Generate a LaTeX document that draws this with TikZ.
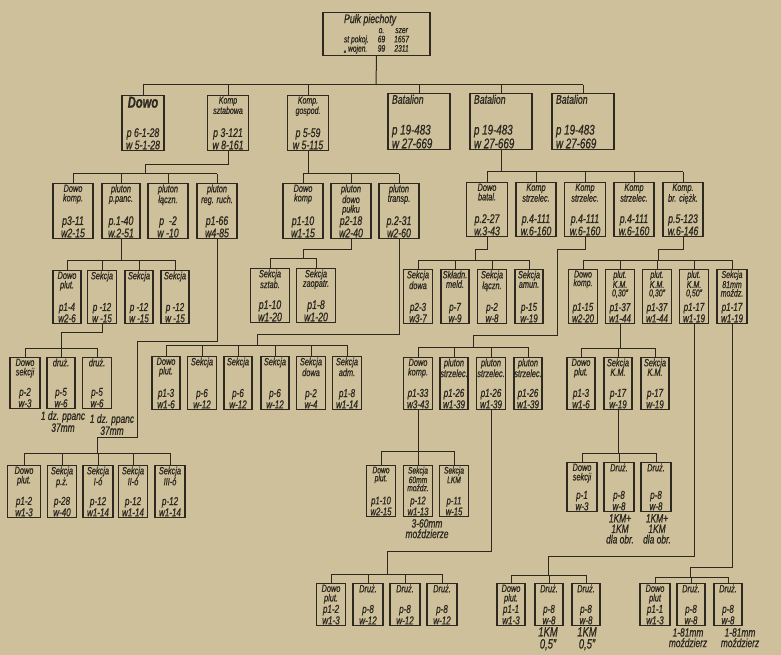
\documentclass[tikz,border=0pt]{standalone}
\usepackage{fontspec}
\setmainfont{Liberation Sans}[FakeStretch=0.7, FakeBold=0.7]

\definecolor{paper}{RGB}{205,192,155}
\definecolor{ink}{RGB}{45,40,32}

% one unit: name, centre x, top y, width, height, title, strength
\newcommand{\orgunit}[7]{%
  \node[unitbox, minimum width=#4pt, minimum height=#5pt, anchor=north] (#1) at (#2,#3) {};
  \node[unittitle, anchor=north] (#1-t) at (#1.north) {#6};
  \node[unitnums, anchor=south] (#1-n) at (#1.south) {#7};
}

\begin{document}
\begin{tikzpicture}[x=1pt, y=-1pt,
    unitbox/.style={draw=ink, line width=1.1pt, inner sep=0pt},
    unittitle/.style={text=ink, align=center, inner sep=1.5pt, font=\fontsize{10.5}{9.5}\selectfont\itshape},
    unitnums/.style={text=ink, align=center, inner sep=1.5pt, font=\fontsize{11.5}{10}\selectfont\itshape},
    wire/.style={draw=ink, line width=1pt},
    note/.style={text=ink, align=center, inner sep=0pt, font=\fontsize{12}{10.5}\selectfont\itshape}]

    % Paper
    \fill[paper] (0,0) rectangle (781,655);
    \useasboundingbox (0,0) rectangle (781,655);

    % Regiment
    \node[unitbox, anchor=north, minimum width=107pt, minimum height=40pt, inner sep=1.5pt,
          text=ink, font=\fontsize{9.5}{8}\selectfont\itshape] (pulk) at (376.5,12)
      {\begin{tabular}{@{}l@{\hspace{9pt}}c@{\hspace{9pt}}c@{}}
        \multicolumn{3}{@{}l}{\fontsize{12.5}{10}\selectfont Pułk piechoty}\\[2pt]
        & o. & szer\\
        st pokoj. & 69 & 1657\\
        „ wojen. & 99 & 2311
       \end{tabular}};

    % Second row
    \begin{scope}[unittitle/.append style={font=\fontsize{10}{9}\selectfont\itshape},
                  unitnums/.append style={font=\fontsize{12.5}{11}\selectfont\itshape}]
      \orgunit{dowo}{143}{95}{42}{55}{\fontsize{16}{16}\selectfont\bfseries Dowo}{p 6-1-28\\w 5-1-28}
      \orgunit{kszt}{228}{95}{41}{55}{Komp\\sztabowa}{p 3-121\\w 8-161}
      \orgunit{kgosp}{308}{95}{41}{55}{Komp.\\gospod.}{p 5-59\\w 5-115}
    \end{scope}
    \begin{scope}[unittitle/.append style={font=\fontsize{12.5}{12}\selectfont\itshape},
                  unitnums/.append style={font=\fontsize{14}{12}\selectfont\itshape}]
      \orgunit{bat1}{419}{93}{62}{56}{\makebox[54pt][l]{Batalion}}{\makebox[54pt][l]{p 19-483}\\\makebox[54pt][l]{w 27-669}}
      \orgunit{bat2}{501}{93}{62}{56}{\makebox[54pt][l]{Batalion}}{\makebox[54pt][l]{p 19-483}\\\makebox[54pt][l]{w 27-669}}
      \orgunit{bat3}{583}{93}{62}{56}{\makebox[54pt][l]{Batalion}}{\makebox[54pt][l]{p 19-483}\\\makebox[54pt][l]{w 27-669}}
    \end{scope}

    % Third row
    \begin{scope}[unittitle/.append style={font=\fontsize{10.5}{9.5}\selectfont\itshape},
                  unitnums/.append style={font=\fontsize{12.5}{11}\selectfont\itshape}]
      \orgunit{dkomp}{73}{183}{40}{55}{Dowo\\komp.}{p3-11\\w2-15}
      \orgunit{ppanc}{121}{183}{38}{55}{pluton\\p.panc.}{p.1-40\\w.2-51}
      \orgunit{placz}{168}{183}{40}{55}{pluton\\łączn.}{p\ \ -2\\w -10}
      \orgunit{pruch}{217}{183}{40}{55}{pluton\\reg. ruch.}{p1-66\\w4-85}
      \orgunit{gdkomp}{303}{183}{40}{55}{Dowo\\komp}{p1-10\\w1-15}
      \orgunit{pdowo}{351}{183}{40}{55}{pluton\\dowo\\pułku}{p2-18\\w2-40}
      \orgunit{ptransp}{399}{183}{40}{55}{pluton\\transp.}{p.2-31\\w2-60}
      \orgunit{dbat}{487}{182}{41}{54}{Dowo\\batal.}{p.2-27\\w.3-43}
      \orgunit{ks1}{536}{182}{40}{54}{Komp\\strzelec.}{p.4-111\\w.6-160}
      \orgunit{ks2}{585}{182}{41}{54}{Komp\\strzelec.}{p.4-111\\w.6-160}
      \orgunit{ks3}{634}{182}{40}{54}{Komp\\strzelec.}{p.4-111\\w.6-160}
      \orgunit{kbc}{683}{182}{40}{54}{Komp.\\br. ciężk.}{p.5-123\\w.6-146}
      \orgunit{ssztab}{270}{268}{39}{54}{Sekcja\\sztab.}{p1-10\\w1-20}
      \orgunit{szaop}{316}{268}{39}{54}{Sekcja\\zaopatr.}{p1-8\\w1-20}
    \end{scope}

    % Fourth row
    \orgunit{pdplut}{67}{270}{28}{53}{Dowo\\plut.}{p1-4\\w2-6}
    \orgunit{sek1}{102}{270}{29}{53}{Sekcja}{p -12\\w -15}
    \orgunit{sek2}{139}{270}{28}{53}{Sekcja}{p -12\\w -15}
    \orgunit{sek3}{175}{270}{28}{53}{Sekcja}{p -12\\w -15}
    \orgunit{sdowa}{418}{269}{29}{54}{Sekcja\\dowa}{p2-3\\w3-7}
    \orgunit{smeld}{455}{269}{28}{54}{Składn.\\meld.}{p-7\\w-9}
    \orgunit{slacz}{492}{269}{29}{54}{Sekcja\\łączn.}{p-2\\w-8}
    \orgunit{samun}{529}{269}{28}{54}{Sekcja\\amun.}{p-15\\w-19}
    \begin{scope}[unittitle/.append style={font=\fontsize{10}{8.5}\selectfont\itshape}]
      \orgunit{cdkomp}{583}{269}{29}{54}{Dowo\\komp.}{p1-15\\w2-20}
      \orgunit{km1}{620}{269}{29}{54}{plut.\\K.M.\\0,30"}{p1-37\\w1-44}
      \orgunit{km2}{657}{269}{29}{54}{plut.\\K.M.\\0,30"}{p1-37\\w1-44}
      \orgunit{km3}{694}{269}{29}{54}{plut.\\K.M.\\0,50"}{p1-17\\w1-19}
      \orgunit{s81}{732}{269}{30}{54}{Sekcja\\81mm\\moźdz.}{p1-17\\w1-19}
    \end{scope}

    % Fifth row
    \orgunit{dsek}{25}{357}{30}{51}{Dowo\\sekcji}{p-2\\w-3}
    \orgunit{druz1}{61}{357}{28}{51}{druż.}{p-5\\w-6}
    \orgunit{druz2}{97}{357}{29}{51}{druż.}{p-5\\w-6}
    \orgunit{tdplut}{166}{356}{28}{53}{Dowo\\plut.}{p1-3\\w1-6}
    \orgunit{ts1}{202}{356}{29}{53}{Sekcja}{p-6\\w-12}
    \orgunit{ts2}{238}{356}{28}{53}{Sekcja}{p-6\\w-12}
    \orgunit{ts3}{275}{356}{28}{53}{Sekcja}{p-6\\w-12}
    \orgunit{tsdowa}{311}{356}{29}{53}{Sekcja\\dowa}{p-2\\w-4}
    \orgunit{tsadm}{347}{356}{29}{53}{Sekcja\\adm.}{p1-8\\w1-14}
    \orgunit{kdkomp}{418}{357}{29}{52}{Dowo\\komp.}{p1-33\\w3-43}
    \orgunit{ps1}{454}{357}{28}{52}{pluton\\strzelec.}{p1-26\\w1-39}
    \orgunit{ps2}{491}{357}{29}{52}{pluton\\strzelec.}{p1-26\\w1-39}
    \orgunit{ps3}{528}{357}{28}{52}{pluton\\strzelec.}{p1-26\\w1-39}
    \orgunit{kpdplut}{581}{357}{28}{52}{Dowo\\plut.}{p1-3\\w1-6}
    \orgunit{skm1}{618}{357}{28}{52}{Sekcja\\K.M.}{p-17\\w-19}
    \orgunit{skm2}{655}{357}{28}{52}{Sekcja\\K.M.}{p-17\\w-19}

    % Sixth row
    \orgunit{rdplut}{24}{465}{33}{52}{Dowo\\plut.}{p1-2\\w1-3}
    \orgunit{rsek}{62}{465}{29}{52}{Sekcja\\p.ż.}{p-28\\w-40}
    \orgunit{rs1}{98}{465}{30}{52}{Sekcja\\I-ó}{p-12\\w1-14}
    \orgunit{rs2}{133}{465}{29}{52}{Sekcja\\II-ó}{p-12\\w1-14}
    \orgunit{rs3}{170}{465}{30}{52}{Sekcja\\III-ó}{p-12\\w1-14}
    \begin{scope}[unittitle/.append style={font=\fontsize{9.5}{8}\selectfont\itshape},
                  unitnums/.append style={font=\fontsize{11}{9}\selectfont\itshape}]
      \orgunit{cdplut}{381}{465}{29}{51}{Dowo\\plut.}{p1-10\\w2-15}
      \orgunit{s60}{418}{465}{29}{51}{Sekcja\\60mm\\moźdz.}{p-12\\w1-13}
      \orgunit{slkm}{454}{465}{29}{51}{Sekcja\\LKM}{p-11\\w-15}
    \end{scope}
    \orgunit{kdsek}{582}{462}{30}{49}{Dowo\\sekcji}{p-1\\w-3}
    \orgunit{kdruz1}{619}{462}{30}{49}{Druż.}{p-8\\w-8}
    \orgunit{kdruz2}{656}{462}{30}{49}{Druż.}{p-8\\w-8}

    % Bottom row
    \orgunit{bdplut}{331}{583}{29}{42}{Dowo\\plut.}{p1-2\\w1-3}
    \orgunit{bd1}{368}{583}{30}{42}{Druż.}{p-8\\w-12}
    \orgunit{bd2}{405}{583}{30}{42}{Druż.}{p-8\\w-12}
    \orgunit{bd3}{442}{583}{30}{42}{Druż.}{p-8\\w-12}
    \orgunit{mdplut}{511}{583}{28}{42}{Dowo\\plut.}{p1-1\\w1-3}
    \orgunit{md1}{549}{583}{28}{42}{Druż.}{p-8\\w-8}
    \orgunit{md2}{586}{583}{28}{42}{Druż.}{p-8\\w-8}
    \orgunit{adplut}{655}{583}{30}{42}{Dowo\\plut}{p1-1\\w1-3}
    \orgunit{ad1}{691}{583}{28}{42}{Druż.}{p-8\\w-8}
    \orgunit{ad2}{728}{583}{28}{42}{Druż.}{p-8\\w-8}

    % Notes under the boxes
    \node[note, anchor=north] (dz1) at (63,411) {1 dz. ppanc\\37mm};
    \node[note, anchor=north] (dz2) at (112,414) {1 dz. ppanc\\37mm};
    \node[note, anchor=north] (m60) at (427,519) {3-60mm\\moździerze};
    \node[note, anchor=north] (obr1) at (620,514) {1KM+\\1KM\\dla obr.};
    \node[note, anchor=north] (obr2) at (657,514) {1KM+\\1KM\\dla obr.};
    \node[note, anchor=north, font=\fontsize{13.5}{12}\selectfont\itshape] (km05a) at (548,627) {1KM\\0,5"};
    \node[note, anchor=north, font=\fontsize{13.5}{12}\selectfont\itshape] (km05b) at (587,627) {1KM\\0,5"};
    \node[note, anchor=north] (m81a) at (688,628) {1-81mm\\moździerz};
    \node[note, anchor=north] (m81b) at (740,628) {1-81mm\\moździerz};

    % Bus points
    \coordinate (pulk-bus) at (376,85);
    \coordinate (kszt-bus) at (145,174);
    \coordinate (kgosp-bus) at (308,174);
    \coordinate (bat2-bus) at (501,172);
    \coordinate (ppanc-bus) at (121,260);
    \coordinate (pdowo-bus) at (303,258);
    \coordinate (dbat-bus) at (475,260);
    \coordinate (kbc-bus) at (658,260);
    \coordinate (sek1-bus) at (61,348);
    \coordinate (ptransp-bus) at (257,345);
    \coordinate (ks2-bus) at (473,347);
    \coordinate (km1-bus) at (620,348);
    \coordinate (pruch-bus) at (97,453);
    \coordinate (kdkomp-bus) at (418,451);
    \coordinate (skm1-bus) at (618,453);
    \coordinate (ps2-bus) at (387,574);
    \coordinate (km3-bus) at (548,575);
    \coordinate (s81-bus) at (690,577);

    % Parents down to their bus
    \draw[wire] (pulk.south) -- (pulk-bus);
    \draw[wire] (kszt.south) -- ++(0,13) -| (kszt-bus);
    \draw[wire] (kgosp.south) -- (kgosp.south |- kgosp-bus);
    \draw[wire] (bat2.south) -- (bat2-bus);
    \draw[wire] (ppanc.south) -- (ppanc-bus);
    \draw[wire] (pdowo.south) -- ++(0,10) -| (pdowo-bus);
    \draw[wire] (dbat.south) -- ++(0,12) -| (dbat-bus);
    \draw[wire] (kbc.south) -- ++(0,12) -| (kbc-bus);
    \draw[wire] (sek1.south) -- ++(0,8) -| (sek1-bus);
    \draw[wire] (ptransp.south) -- ++(0,95) -| (ptransp-bus);
    \draw[wire] (ks2.south) -- ++(0,12) -| (557,335) -| (ks2-bus);
    \draw[wire] (km1.south) -- (km1-bus);
    \draw[wire] (pruch.south) -- ++(0,102) -| (137,437) -| (pruch-bus);
    \draw[wire] (kdkomp.south) -- (kdkomp-bus);
    \draw[wire] (skm1.south) -- (skm1-bus);
    \draw[wire] (ps2.south) -- ++(0,141) -| (ps2-bus);
    \draw[wire] (km3.south) -- ++(0,232) -| (km3-bus);
    \draw[wire] (s81.south) -- ++(0,243) -| (s81-bus);

    % Buses and drops to the children
    \draw[wire] (dowo.north |- pulk-bus) -- (bat3.north |- pulk-bus);
    \foreach \c in {dowo,kszt,kgosp,bat1,bat2,bat3}
      \draw[wire] (\c.north) -- (\c.north |- pulk-bus);
    \draw[wire] (dkomp.north |- kszt-bus) -- (pruch.north |- kszt-bus);
    \foreach \c in {dkomp,ppanc,placz,pruch}
      \draw[wire] (\c.north) -- (\c.north |- kszt-bus);
    \draw[wire] (gdkomp.north |- kgosp-bus) -- (ptransp.north |- kgosp-bus);
    \foreach \c in {gdkomp,pdowo,ptransp}
      \draw[wire] (\c.north) -- (\c.north |- kgosp-bus);
    \draw[wire] (dbat.north |- bat2-bus) -- (kbc.north |- bat2-bus);
    \foreach \c in {dbat,ks1,ks2,ks3,kbc}
      \draw[wire] (\c.north) -- (\c.north |- bat2-bus);
    \draw[wire] (pdplut.north |- ppanc-bus) -- (sek3.north |- ppanc-bus);
    \foreach \c in {pdplut,sek1,sek2,sek3}
      \draw[wire] (\c.north) -- (\c.north |- ppanc-bus);
    \draw[wire] (ssztab.north |- pdowo-bus) -- (szaop.north |- pdowo-bus);
    \foreach \c in {ssztab,szaop}
      \draw[wire] (\c.north) -- (\c.north |- pdowo-bus);
    \draw[wire] (sdowa.north |- dbat-bus) -- (samun.north |- dbat-bus);
    \foreach \c in {sdowa,smeld,slacz,samun}
      \draw[wire] (\c.north) -- (\c.north |- dbat-bus);
    \draw[wire] (cdkomp.north |- kbc-bus) -- (s81.north |- kbc-bus);
    \foreach \c in {cdkomp,km1,km2,km3,s81}
      \draw[wire] (\c.north) -- (\c.north |- kbc-bus);
    \draw[wire] (dsek.north |- sek1-bus) -- (druz2.north |- sek1-bus);
    \foreach \c in {dsek,druz1,druz2}
      \draw[wire] (\c.north) -- (\c.north |- sek1-bus);
    \draw[wire] (tdplut.north |- ptransp-bus) -- (tsadm.north |- ptransp-bus);
    \foreach \c in {tdplut,ts1,ts2,ts3,tsdowa,tsadm}
      \draw[wire] (\c.north) -- (\c.north |- ptransp-bus);
    \draw[wire] (kdkomp.north |- ks2-bus) -- (ps3.north |- ks2-bus);
    \foreach \c in {kdkomp,ps1,ps2,ps3}
      \draw[wire] (\c.north) -- (\c.north |- ks2-bus);
    \draw[wire] (kpdplut.north |- km1-bus) -- (skm2.north |- km1-bus);
    \foreach \c in {kpdplut,skm1,skm2}
      \draw[wire] (\c.north) -- (\c.north |- km1-bus);
    \draw[wire] (rdplut.north |- pruch-bus) -- (rs3.north |- pruch-bus);
    \foreach \c in {rdplut,rsek,rs1,rs2,rs3}
      \draw[wire] (\c.north) -- (\c.north |- pruch-bus);
    \draw[wire] (cdplut.north |- kdkomp-bus) -- (slkm.north |- kdkomp-bus);
    \foreach \c in {cdplut,s60,slkm}
      \draw[wire] (\c.north) -- (\c.north |- kdkomp-bus);
    \draw[wire] (kdsek.north |- skm1-bus) -- (kdruz2.north |- skm1-bus);
    \foreach \c in {kdsek,kdruz1,kdruz2}
      \draw[wire] (\c.north) -- (\c.north |- skm1-bus);
    \draw[wire] (bdplut.north |- ps2-bus) -- (bd3.north |- ps2-bus);
    \foreach \c in {bdplut,bd1,bd2,bd3}
      \draw[wire] (\c.north) -- (\c.north |- ps2-bus);
    \draw[wire] (mdplut.north |- km3-bus) -- (md2.north |- km3-bus);
    \foreach \c in {mdplut,md1,md2}
      \draw[wire] (\c.north) -- (\c.north |- km3-bus);
    \draw[wire] (adplut.north |- s81-bus) -- (ad2.north |- s81-bus);
    \foreach \c in {adplut,ad1,ad2}
      \draw[wire] (\c.north) -- (\c.north |- s81-bus);
\end{tikzpicture}
\end{document}
